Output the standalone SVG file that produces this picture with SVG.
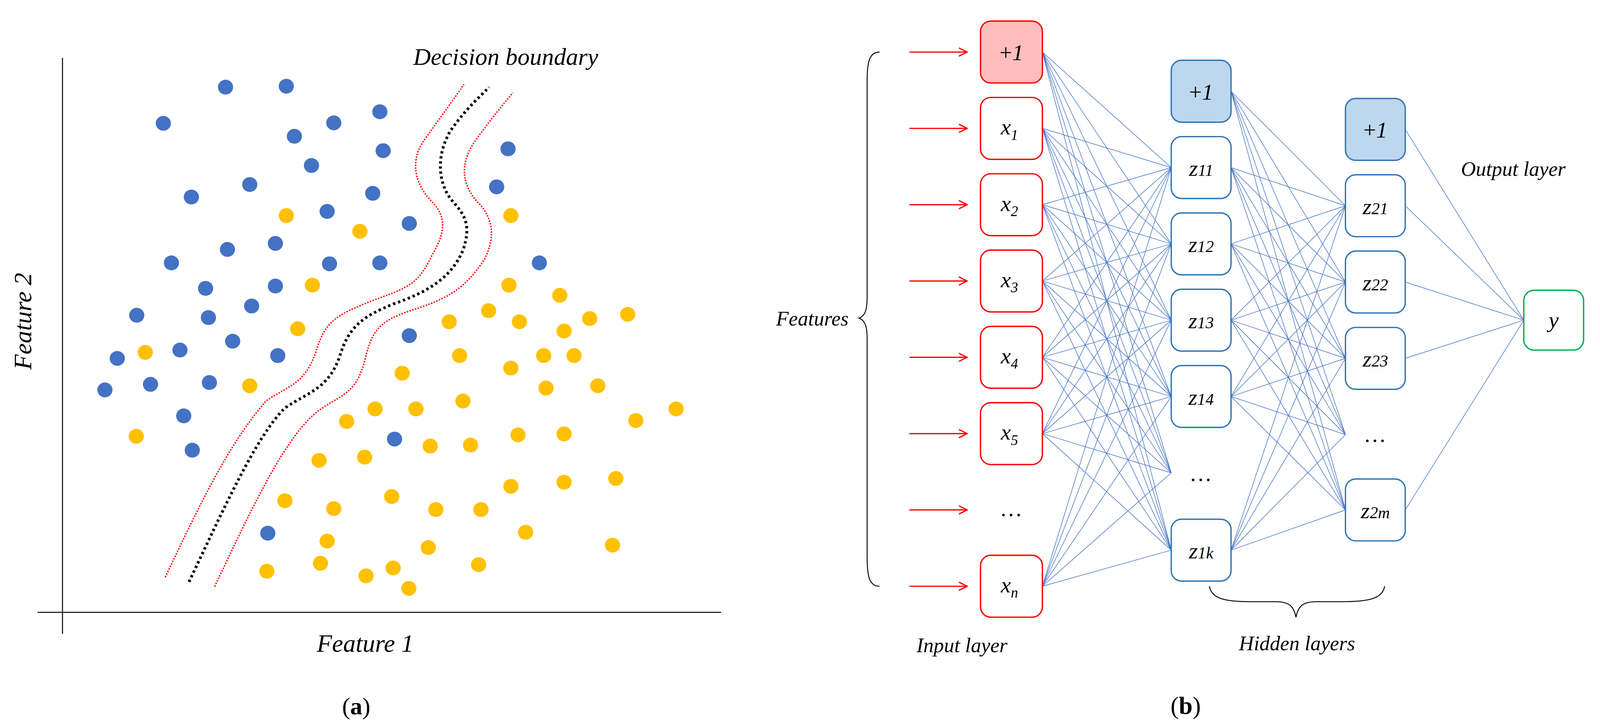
<svg xmlns="http://www.w3.org/2000/svg" width="4138" height="1863" viewBox="0 0 4138 1863">
<style>
.t{font-family:"Liberation Serif",serif;font-style:italic;fill:#000}
.b{fill:#4472C4}.y{fill:#FFC000}
.in{fill:#fff;stroke:#FF0000;stroke-width:1.3}
.hd{fill:#fff;stroke:#2E75B6;stroke-width:1.3}
.c line{stroke:#4472C4;stroke-width:0.55}
.ar{stroke:#FF0000;stroke-width:1.2;fill:none}
</style>
<defs>
<marker id="ah" markerWidth="10" markerHeight="10" refX="9" refY="5" orient="auto" markerUnits="userSpaceOnUse"><path d="M1,1 L9,5 L1,9" fill="none" stroke="#FF0000" stroke-width="1.2"/></marker>
</defs>
<rect width="4138" height="1863" fill="#fff"/>
<g id="panel-a">
<line x1="160" y1="148" x2="160" y2="1622" stroke="#000" stroke-width="2.5"/>
<line x1="96" y1="1567" x2="1846" y2="1567" stroke="#000" stroke-width="2.5"/>
<g transform="matrix(1.2155 0 0 1.1865 0 0)">
<g id="blue">
<circle class="b" cx="475" cy="188" r="16"/><circle class="b" cx="603" cy="186" r="16"/><circle class="b" cx="344" cy="266" r="16"/><circle class="b" cx="703" cy="265" r="16"/><circle class="b" cx="800" cy="241" r="16"/><circle class="b" cx="620" cy="294" r="16"/><circle class="b" cx="807" cy="325" r="16"/><circle class="b" cx="656" cy="357" r="16"/><circle class="b" cx="1070" cy="321" r="16"/><circle class="b" cx="403" cy="425" r="16"/><circle class="b" cx="526" cy="398" r="16"/><circle class="b" cx="785" cy="417" r="16"/><circle class="b" cx="1046" cy="403" r="16"/><circle class="b" cx="689" cy="456" r="16"/><circle class="b" cx="862" cy="482" r="16"/><circle class="b" cx="479" cy="538" r="16"/><circle class="b" cx="580" cy="525" r="16"/><circle class="b" cx="361" cy="567" r="16"/><circle class="b" cx="694" cy="569" r="16"/><circle class="b" cx="800" cy="567" r="16"/><circle class="b" cx="1136" cy="567" r="16"/><circle class="b" cx="433" cy="622" r="16"/><circle class="b" cx="580" cy="617" r="16"/><circle class="b" cx="530" cy="660" r="16"/><circle class="b" cx="288" cy="680" r="16"/><circle class="b" cx="439" cy="685" r="16"/><circle class="b" cx="862" cy="724" r="16"/><circle class="b" cx="490" cy="736" r="16"/><circle class="b" cx="379" cy="755" r="16"/><circle class="b" cx="585" cy="767" r="16"/><circle class="b" cx="247" cy="773" r="16"/><circle class="b" cx="317" cy="829" r="16"/><circle class="b" cx="441" cy="825" r="16"/><circle class="b" cx="221" cy="841" r="16"/><circle class="b" cx="387" cy="897" r="16"/><circle class="b" cx="405" cy="971" r="16"/><circle class="b" cx="831" cy="947" r="16"/><circle class="b" cx="564" cy="1150" r="16"/>
</g>
<g id="yellow">
<circle class="y" cx="603" cy="465" r="16"/><circle class="y" cx="758" cy="499" r="16"/><circle class="y" cx="1076" cy="465" r="16"/><circle class="y" cx="658" cy="615" r="16"/><circle class="y" cx="1072" cy="615" r="16"/><circle class="y" cx="1179" cy="637" r="16"/><circle class="y" cx="627" cy="709" r="16"/><circle class="y" cx="946" cy="694" r="16"/><circle class="y" cx="1029" cy="670" r="16"/><circle class="y" cx="1094" cy="694" r="16"/><circle class="y" cx="1242" cy="687" r="16"/><circle class="y" cx="1322" cy="678" r="16"/><circle class="y" cx="1188" cy="714" r="16"/><circle class="y" cx="306" cy="760" r="16"/><circle class="y" cx="968" cy="767" r="16"/><circle class="y" cx="1145" cy="767" r="16"/><circle class="y" cx="1209" cy="767" r="16"/><circle class="y" cx="847" cy="805" r="16"/><circle class="y" cx="1076" cy="794" r="16"/><circle class="y" cx="526" cy="832" r="16"/><circle class="y" cx="1150" cy="837" r="16"/><circle class="y" cx="1259" cy="832" r="16"/><circle class="y" cx="975" cy="865" r="16"/><circle class="y" cx="790" cy="882" r="16"/><circle class="y" cx="876" cy="882" r="16"/><circle class="y" cx="730" cy="909" r="16"/><circle class="y" cx="1424" cy="882" r="16"/><circle class="y" cx="1339" cy="907" r="16"/><circle class="y" cx="287" cy="941" r="16"/><circle class="y" cx="1091" cy="938" r="16"/><circle class="y" cx="1188" cy="936" r="16"/><circle class="y" cx="906" cy="962" r="16"/><circle class="y" cx="991" cy="960" r="16"/><circle class="y" cx="672" cy="993" r="16"/><circle class="y" cx="768" cy="986" r="16"/><circle class="y" cx="1076" cy="1049" r="16"/><circle class="y" cx="1188" cy="1040" r="16"/><circle class="y" cx="1297" cy="1032" r="16"/><circle class="y" cx="600" cy="1080" r="16"/><circle class="y" cx="703" cy="1097" r="16"/><circle class="y" cx="825" cy="1071" r="16"/><circle class="y" cx="918" cy="1099" r="16"/><circle class="y" cx="1013" cy="1099" r="16"/><circle class="y" cx="1107" cy="1148" r="16"/><circle class="y" cx="689" cy="1167" r="16"/><circle class="y" cx="902" cy="1181" r="16"/><circle class="y" cx="1290" cy="1176" r="16"/><circle class="y" cx="562" cy="1232" r="16"/><circle class="y" cx="675" cy="1215" r="16"/><circle class="y" cx="771" cy="1242" r="16"/><circle class="y" cx="828" cy="1225" r="16"/><circle class="y" cx="1008" cy="1218" r="16"/><circle class="y" cx="861" cy="1269" r="16"/>
</g>
<g id="boundary" fill="none">
<path d="M398,1255 C470,1100 540,940 600,880 C650,845 690,840 715,770 C735,700 770,680 830,655 C900,630 950,600 975,540 C995,480 975,460 950,430 C920,390 920,330 950,280 C985,230 1010,210 1030,188" stroke="#000" stroke-width="6" stroke-dasharray="5 6"/>
<path d="M348,1245 C420,1090 480,960 560,865 C610,830 640,830 665,760 C685,690 710,680 780,650 C860,620 880,615 910,550 C945,490 935,460 905,430 C870,390 865,340 895,300 C930,250 955,215 977,182" stroke="#FF0000" stroke-width="3" stroke-dasharray="3 3"/>
<path d="M452,1265 C520,1120 590,960 660,895 C710,850 750,860 770,770 C785,710 800,690 880,665 C950,640 980,620 1020,560 C1050,500 1030,460 1005,435 C970,395 970,350 1000,305 C1035,255 1060,225 1080,200" stroke="#FF0000" stroke-width="3" stroke-dasharray="3 3"/>
</g>
</g>
<text class="t" x="1058" y="166" font-size="62">Decision boundary</text>
<text class="t" x="0" y="0" font-size="64" text-anchor="middle" transform="translate(80,822) rotate(-90)">Feature 2</text>
<text class="t" x="935" y="1668" font-size="64" text-anchor="middle">Feature 1</text>
<text x="912" y="1828" font-size="62" text-anchor="middle" font-family="Liberation Serif,serif">(<tspan font-weight="bold">a</tspan>)</text>
</g>
<g id="panel-b" transform="translate(-18,-4) scale(2.639)">
<g id="connectors" class="c">
<line x1="1018" y1="52" x2="1143" y2="164"/><line x1="1018" y1="52" x2="1143" y2="238"/><line x1="1018" y1="52" x2="1143" y2="312"/><line x1="1018" y1="52" x2="1143" y2="386"/><line x1="1018" y1="52" x2="1143" y2="460"/><line x1="1018" y1="52" x2="1143" y2="535"/>
<line x1="1018" y1="126" x2="1143" y2="164"/><line x1="1018" y1="126" x2="1143" y2="238"/><line x1="1018" y1="126" x2="1143" y2="312"/><line x1="1018" y1="126" x2="1143" y2="386"/><line x1="1018" y1="126" x2="1143" y2="460"/><line x1="1018" y1="126" x2="1143" y2="535"/>
<line x1="1018" y1="200" x2="1143" y2="164"/><line x1="1018" y1="200" x2="1143" y2="238"/><line x1="1018" y1="200" x2="1143" y2="312"/><line x1="1018" y1="200" x2="1143" y2="386"/><line x1="1018" y1="200" x2="1143" y2="460"/><line x1="1018" y1="200" x2="1143" y2="535"/>
<line x1="1018" y1="274" x2="1143" y2="164"/><line x1="1018" y1="274" x2="1143" y2="238"/><line x1="1018" y1="274" x2="1143" y2="312"/><line x1="1018" y1="274" x2="1143" y2="386"/><line x1="1018" y1="274" x2="1143" y2="460"/><line x1="1018" y1="274" x2="1143" y2="535"/>
<line x1="1018" y1="348" x2="1143" y2="164"/><line x1="1018" y1="348" x2="1143" y2="238"/><line x1="1018" y1="348" x2="1143" y2="312"/><line x1="1018" y1="348" x2="1143" y2="386"/><line x1="1018" y1="348" x2="1143" y2="460"/><line x1="1018" y1="348" x2="1143" y2="535"/>
<line x1="1018" y1="422" x2="1143" y2="164"/><line x1="1018" y1="422" x2="1143" y2="238"/><line x1="1018" y1="422" x2="1143" y2="312"/><line x1="1018" y1="422" x2="1143" y2="386"/><line x1="1018" y1="422" x2="1143" y2="460"/><line x1="1018" y1="422" x2="1143" y2="535"/>
<line x1="1018" y1="570" x2="1143" y2="164"/><line x1="1018" y1="570" x2="1143" y2="238"/><line x1="1018" y1="570" x2="1143" y2="312"/><line x1="1018" y1="570" x2="1143" y2="386"/><line x1="1018" y1="570" x2="1143" y2="460"/><line x1="1018" y1="570" x2="1143" y2="535"/>
<line x1="1201" y1="90" x2="1312" y2="201"/><line x1="1201" y1="90" x2="1312" y2="275"/><line x1="1201" y1="90" x2="1312" y2="349"/><line x1="1201" y1="90" x2="1312" y2="423"/><line x1="1201" y1="90" x2="1312" y2="496"/>
<line x1="1201" y1="164" x2="1312" y2="201"/><line x1="1201" y1="164" x2="1312" y2="275"/><line x1="1201" y1="164" x2="1312" y2="349"/><line x1="1201" y1="164" x2="1312" y2="423"/><line x1="1201" y1="164" x2="1312" y2="496"/>
<line x1="1201" y1="238" x2="1312" y2="201"/><line x1="1201" y1="238" x2="1312" y2="275"/><line x1="1201" y1="238" x2="1312" y2="349"/><line x1="1201" y1="238" x2="1312" y2="423"/><line x1="1201" y1="238" x2="1312" y2="496"/>
<line x1="1201" y1="312" x2="1312" y2="201"/><line x1="1201" y1="312" x2="1312" y2="275"/><line x1="1201" y1="312" x2="1312" y2="349"/><line x1="1201" y1="312" x2="1312" y2="423"/><line x1="1201" y1="312" x2="1312" y2="496"/>
<line x1="1201" y1="386" x2="1312" y2="201"/><line x1="1201" y1="386" x2="1312" y2="275"/><line x1="1201" y1="386" x2="1312" y2="349"/><line x1="1201" y1="386" x2="1312" y2="423"/><line x1="1201" y1="386" x2="1312" y2="496"/>
<line x1="1201" y1="535" x2="1312" y2="201"/><line x1="1201" y1="535" x2="1312" y2="275"/><line x1="1201" y1="535" x2="1312" y2="349"/><line x1="1201" y1="535" x2="1312" y2="423"/><line x1="1201" y1="535" x2="1312" y2="496"/>
<line x1="1370" y1="127" x2="1485" y2="312"/><line x1="1370" y1="201" x2="1485" y2="312"/><line x1="1370" y1="275" x2="1485" y2="312"/><line x1="1370" y1="349" x2="1485" y2="312"/><line x1="1370" y1="496" x2="1485" y2="312"/>
</g>
<g id="arrows">
<line class="ar" x1="889" y1="52" x2="945" y2="52" marker-end="url(#ah)"/><line class="ar" x1="889" y1="126" x2="945" y2="126" marker-end="url(#ah)"/><line class="ar" x1="889" y1="200" x2="945" y2="200" marker-end="url(#ah)"/><line class="ar" x1="889" y1="274" x2="945" y2="274" marker-end="url(#ah)"/><line class="ar" x1="889" y1="348" x2="945" y2="348" marker-end="url(#ah)"/><line class="ar" x1="889" y1="422" x2="945" y2="422" marker-end="url(#ah)"/><line class="ar" x1="889" y1="496" x2="945" y2="496" marker-end="url(#ah)"/><line class="ar" x1="889" y1="570" x2="945" y2="570" marker-end="url(#ah)"/>
</g>
<g id="input-layer" font-size="22">
<g id="in-b"><rect x="958" y="22" width="60" height="60" rx="10" class="in" style="fill:#FFBDBD"/><text class="t" x="988" y="60" text-anchor="middle"><tspan font-style="normal">+</tspan>1</text></g>
<g id="in-x1"><rect x="958" y="96" width="60" height="60" rx="10" class="in"/><text class="t" x="986" y="132" text-anchor="middle">x<tspan font-size="14" dy="5">1</tspan></text></g>
<g id="in-x2"><rect x="958" y="170" width="60" height="60" rx="10" class="in"/><text class="t" x="986" y="206" text-anchor="middle">x<tspan font-size="14" dy="5">2</tspan></text></g>
<g id="in-x3"><rect x="958" y="244" width="60" height="60" rx="10" class="in"/><text class="t" x="986" y="280" text-anchor="middle">x<tspan font-size="14" dy="5">3</tspan></text></g>
<g id="in-x4"><rect x="958" y="318" width="60" height="60" rx="10" class="in"/><text class="t" x="986" y="354" text-anchor="middle">x<tspan font-size="14" dy="5">4</tspan></text></g>
<g id="in-x5"><rect x="958" y="392" width="60" height="60" rx="10" class="in"/><text class="t" x="986" y="428" text-anchor="middle">x<tspan font-size="14" dy="5">5</tspan></text></g>
<text class="t" x="988" y="502" text-anchor="middle" font-style="normal">…</text>
<g id="in-xn"><rect x="958" y="540" width="60" height="60" rx="10" class="in"/><text class="t" x="986" y="576" text-anchor="middle">x<tspan font-size="14" dy="5">n</tspan></text></g>
</g>
<g id="hidden-1" font-size="22">
<g id="h1-b"><rect x="1143" y="60" width="58" height="60" rx="10" class="hd" style="fill:#BDD7EE"/><text class="t" x="1172" y="98" text-anchor="middle"><tspan font-style="normal">+</tspan>1</text></g>
<g id="h1-1"><rect x="1143" y="134" width="58" height="60" rx="10" class="hd"/><text class="t" x="1172" y="172" text-anchor="middle">z<tspan font-size="16">11</tspan></text></g>
<g id="h1-2"><rect x="1143" y="208" width="58" height="60" rx="10" class="hd"/><text class="t" x="1172" y="246" text-anchor="middle">z<tspan font-size="16">12</tspan></text></g>
<g id="h1-3"><rect x="1143" y="282" width="58" height="60" rx="10" class="hd"/><text class="t" x="1172" y="320" text-anchor="middle">z<tspan font-size="16">13</tspan></text></g>
<g id="h1-4"><rect x="1143" y="356" width="58" height="60" rx="10" class="hd"/><text class="t" x="1172" y="394" text-anchor="middle">z<tspan font-size="16">14</tspan></text></g>
<text class="t" x="1172" y="468" text-anchor="middle" font-style="normal">…</text>
<g id="h1-k"><rect x="1143" y="505" width="58" height="60" rx="10" class="hd"/><text class="t" x="1172" y="543" text-anchor="middle">z<tspan font-size="16">1k</tspan></text></g>
</g>
<g id="hidden-2" font-size="22">
<g id="h2-b"><rect x="1312" y="97" width="58" height="60" rx="10" class="hd" style="fill:#BDD7EE"/><text class="t" x="1341" y="135" text-anchor="middle"><tspan font-style="normal">+</tspan>1</text></g>
<g id="h2-1"><rect x="1312" y="171" width="58" height="60" rx="10" class="hd"/><text class="t" x="1341" y="209" text-anchor="middle">z<tspan font-size="16">21</tspan></text></g>
<g id="h2-2"><rect x="1312" y="245" width="58" height="60" rx="10" class="hd"/><text class="t" x="1341" y="283" text-anchor="middle">z<tspan font-size="16">22</tspan></text></g>
<g id="h2-3"><rect x="1312" y="319" width="58" height="60" rx="10" class="hd"/><text class="t" x="1341" y="357" text-anchor="middle">z<tspan font-size="16">23</tspan></text></g>
<text class="t" x="1341" y="430" text-anchor="middle" font-style="normal">…</text>
<g id="h2-m"><rect x="1312" y="466" width="58" height="60" rx="10" class="hd"/><text class="t" x="1341" y="504" text-anchor="middle">z<tspan font-size="16">2m</tspan></text></g>
</g>
<g id="output"><rect x="1485" y="283" width="58" height="58" rx="10" fill="#fff" stroke="#00B050" stroke-width="1.3"/><text class="t" x="1514" y="319" text-anchor="middle" font-size="22">y</text></g>
<g id="braces" fill="none" stroke="#000" stroke-width="0.9">
<path d="M860,52 C850,52 848,62 848,80 L848,290 C848,302 846,308 840,310 C846,312 848,318 848,330 L848,542 C848,560 850,570 860,570"/>
<path d="M1180,570 C1182,582 1195,585 1220,585 L1245,585 C1258,585 1262,590 1264,600 C1266,590 1270,585 1283,585 L1308,585 C1335,585 1348,582 1350,570"/>
</g>
<text class="t" x="830" y="317" text-anchor="end" font-size="20">Features</text>
<text class="t" x="940" y="634" text-anchor="middle" font-size="20">Input layer</text>
<text class="t" x="1265" y="632" text-anchor="middle" font-size="20">Hidden layers</text>
<text class="t" x="1424" y="172" font-size="20">Output layer</text>
<text x="1157" y="694" text-anchor="middle" font-size="24" font-family="Liberation Serif,serif">(<tspan font-weight="bold">b</tspan>)</text>
</g>
</svg>
